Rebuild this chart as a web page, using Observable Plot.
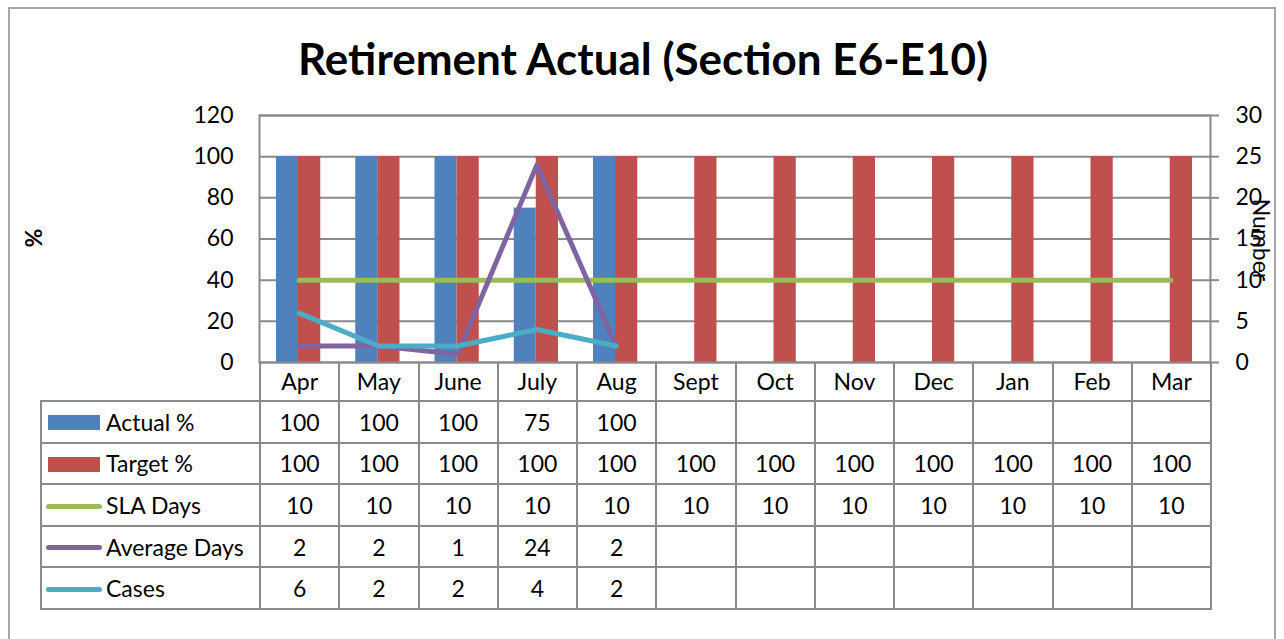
<!DOCTYPE html>
<html><head><meta charset="utf-8">
<script src="https://cdn.jsdelivr.net/npm/d3@7"></script>
<script src="https://cdn.jsdelivr.net/npm/@observablehq/plot@0.6"></script>
<style>
body{margin:0;background:#fff;font-family:Lato,"Open Sans",sans-serif;color:#000;}
#wrap{position:relative;width:1284px;height:639px;overflow:hidden;}
#border{position:absolute;left:8px;top:7px;width:1268px;height:660px;border:2px solid #a6a6a6;box-sizing:border-box;}
#title{position:absolute;left:0;top:31px;width:1286px;text-align:center;font-weight:bold;font-size:44px;line-height:54px;}
#chart{position:absolute;left:0;top:100px;}
.ylab{position:absolute;white-space:nowrap;font-size:23px;line-height:26px;}
#ylabL{left:33px;top:238px;transform:translate(-50%,-50%) rotate(-90deg);font-weight:bold;}
#ylabR{left:1262px;top:240px;transform:translate(-50%,-50%) rotate(90deg);}
table{position:absolute;left:40px;top:362px;border-collapse:collapse;table-layout:fixed;font-size:23px;}
td{border:2px solid #8a8a8a;padding:0;text-align:center;white-space:nowrap;overflow:hidden;}
tr.head td{border-top:none;height:38px;}
tr.head td.blank{border-left:none;}
tr.row td{height:39.6px;}
td.lab{text-align:left;padding-left:4px;}
.sw{display:inline-block;vertical-align:middle;margin-right:4px;position:relative;top:-2px;}
.swbar{width:52px;height:15px;margin-left:2px;margin-right:6px;}
.swline{width:56px;height:5px;border-radius:3px;}
</style>
</head><body>
<div id="wrap">
  <div id="border"></div>
  <div id="title"></div>
  <div id="chart"></div>
  <div class="ylab" id="ylabL"></div>
  <div class="ylab" id="ylabR"></div>
  <table id="tbl"></table>
</div>
<script>
// ---- data ----
const titleText = "Retirement Actual (Section E6-E10)";
const leftAxisTitle = "%";
const rightAxisTitle = "Number";
const months = ["Apr","May","June","July","Aug","Sept","Oct","Nov","Dec","Jan","Feb","Mar"];
const actualPct   = [100,100,100,75,100,null,null,null,null,null,null,null];
const targetPct   = [100,100,100,100,100,100,100,100,100,100,100,100];
const slaDays     = [10,10,10,10,10,10,10,10,10,10,10,10];
const averageDays = [2,2,1,24,2,null,null,null,null,null,null,null];
const cases       = [6,2,2,4,2,null,null,null,null,null,null,null];
const leftTicks  = [0,20,40,60,80,100,120];
const rightTicks = [0,5,10,15,20,25,30];

const seriesInfo = [
  {name:"Actual %",     values:actualPct,   color:"#4F81BD", kind:"bar"},
  {name:"Target %",     values:targetPct,   color:"#C0504D", kind:"bar"},
  {name:"SLA Days",     values:slaDays,     color:"#9BBB59", kind:"line"},
  {name:"Average Days", values:averageDays, color:"#8064A2", kind:"line"},
  {name:"Cases",        values:cases,       color:"#4BACC6", kind:"line"}
];

// right axis (0-30) mapped onto left scale (0-120)
const k = leftTicks[leftTicks.length-1] / rightTicks[rightTicks.length-1];

document.getElementById("title").textContent = titleText;
document.getElementById("ylabL").textContent = leftAxisTitle;
document.getElementById("ylabR").textContent = rightAxisTitle;

const barRows = months.map((m,i)=>({month:m, actual:actualPct[i], target:targetPct[i]}));
const lineRows = s => months.map((m,i)=>({month:m, v:s.values[i]})).filter(d=>d.v!=null);

const lineMarks = seriesInfo.filter(s=>s.kind==="line").map(s =>
  Plot.line(lineRows(s), {x:"month", y:d=>d.v*k, stroke:s.color, strokeWidth:5,
    strokeLinecap:"round", strokeLinejoin:"round"}));

const chart = Plot.plot({
  width:1284, height:280,
  marginTop:15, marginBottom:18, marginLeft:259, marginRight:74,
  style:{fontFamily:"Lato, 'Open Sans', sans-serif", fontSize:"23px", color:"#000", background:"transparent", overflow:"visible"},
  x:{type:"band", domain:months, padding:0, round:false, axis:null},
  y:{domain:[0,120], axis:null},
  marks:[
    Plot.gridY(leftTicks, {stroke:"#8a8a8a", strokeOpacity:1, strokeWidth:2}),
    Plot.barY(barRows.filter(d=>d.actual!=null), {x:"month", y:"actual", fill:seriesInfo[0].color, insetLeft:17, insetRight:40.25}),
    Plot.barY(barRows, {x:"month", y:"target", fill:seriesInfo[1].color, insetLeft:39, insetRight:18}),
    ...lineMarks,
    Plot.frame({stroke:"#8a8a8a", strokeWidth:2}),
    Plot.axisY({anchor:"left", ticks:leftTicks, tickSize:0, tickPadding:26, label:null, fontSize:23}),
    Plot.axisY({anchor:"right", ticks:leftTicks, tickSize:8, tickPadding:17, label:null, fontSize:23,
      stroke:"#8a8a8a", strokeWidth:2, tickFormat:d=>String(d/k)})
  ]
});
document.getElementById("chart").appendChild(chart);

// ---- data table ----
const tbl = document.getElementById("tbl");
const cg = document.createElement("colgroup");
const c0 = document.createElement("col"); c0.style.width="219px"; cg.appendChild(c0);
months.forEach(()=>{const c=document.createElement("col"); c.style.width="79.25px"; cg.appendChild(c);});
tbl.appendChild(cg);
const hr = document.createElement("tr"); hr.className="head";
const blank = document.createElement("td"); blank.className="blank"; hr.appendChild(blank);
months.forEach(m=>{const td=document.createElement("td"); td.textContent=m; hr.appendChild(td);});
tbl.appendChild(hr);
seriesInfo.forEach(s=>{
  const tr=document.createElement("tr"); tr.className="row";
  const lab=document.createElement("td"); lab.className="lab";
  const sw=document.createElement("span");
  sw.className="sw "+(s.kind==="bar"?"swbar":"swline");
  sw.style.background=s.color;
  lab.appendChild(sw);
  lab.appendChild(document.createTextNode(s.name));
  tr.appendChild(lab);
  s.values.forEach(v=>{const td=document.createElement("td"); td.textContent=v==null?"":v; tr.appendChild(td);});
  tbl.appendChild(tr);
});
</script>
</body></html>
